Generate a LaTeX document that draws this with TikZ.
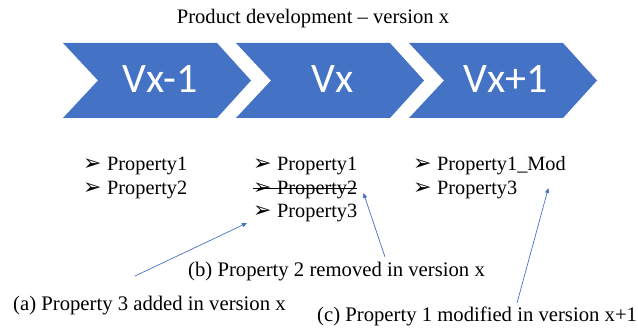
\documentclass[tikz,border=0pt]{standalone}
\usepackage{fontspec}
\setmainfont{Liberation Serif}
\newfontfamily\chevfont{Carlito}
\newfontfamily\symfont{DejaVu Sans}
\usetikzlibrary{arrows.meta}
\definecolor{chevblue}{RGB}{68,114,196}
\newcommand{\bul}{\makebox[24pt][l]{\symfont\fontsize{22}{22}\selectfont ➢}}
\tikzset{
  prop/.style={anchor=base west,inner sep=0pt,font=\fontsize{20.3}{24}\selectfont},
  note/.style={anchor=base west,inner sep=0pt,font=\fontsize{20.7}{24}\selectfont},
  pointer/.style={draw=chevblue,line width=0.7pt,-{Triangle[length=5pt,width=4pt]}}
}

\begin{document}
\begin{tikzpicture}[x=1pt,y=-1pt]
\useasboundingbox (0,0) rectangle (638,331);
\node[anchor=base,inner sep=0pt,font=\fontsize{20.6}{24}\selectfont] (title) at (313,24) {Product development -- version x};

% chevrons
\foreach \i/\lab in {0/Vx-1,1/Vx,2/Vx+1} {
  \fill[chevblue,xshift=\i*173pt] (63,43) -- (217,43) -- (251,80.5) -- (217,118) -- (63,118) -- (98,80.5) -- cycle;
  \node[anchor=base,inner sep=0pt,text=white,font=\chevfont\fontsize{42}{42}\selectfont] (v\i) at (160+\i*173,93) {\lab};
}

% property lists
\node[prop] (p11) at (83,171) {\bul Property1};
\node[prop] (p12) at (83,194.5) {\bul Property2};
\node[prop] (p21) at (253,171) {\bul Property1};
\node[prop] (p22) at (253,194.5) {\bul Property2};
\node[prop] (p23) at (253,218) {\bul Property3};
\node[prop] (p31) at (413,171) {\bul Property1\_Mod};
\node[prop] (p32) at (413,194.5) {\bul Property3};
\draw[line width=0.9pt] ([yshift=6pt]p22.base west) -- ([yshift=6pt]p22.base east);

% notes
\node[note] (na) at (13,311) {(a) Property 3 added in version x};
\node[note] (nb) at (188,277) {(b) Property 2 removed in version x};
\node[note] (nc) at (317,322) {(c) Property 1 modified in version x+1};

\draw[pointer] ([xshift=122pt,yshift=35pt]na.base west) -- ([xshift=-6pt,yshift=-5pt]p23.base west);
\draw[pointer] ([xshift=197pt,yshift=20pt]nb.base west) -- ([xshift=6pt,yshift=1.5pt]p22.base east);
\draw[pointer] ([xshift=200pt,yshift=19pt]nc.base west) -- ([xshift=-17.6pt,yshift=-17pt]p31.base east);
\end{tikzpicture}
\end{document}
